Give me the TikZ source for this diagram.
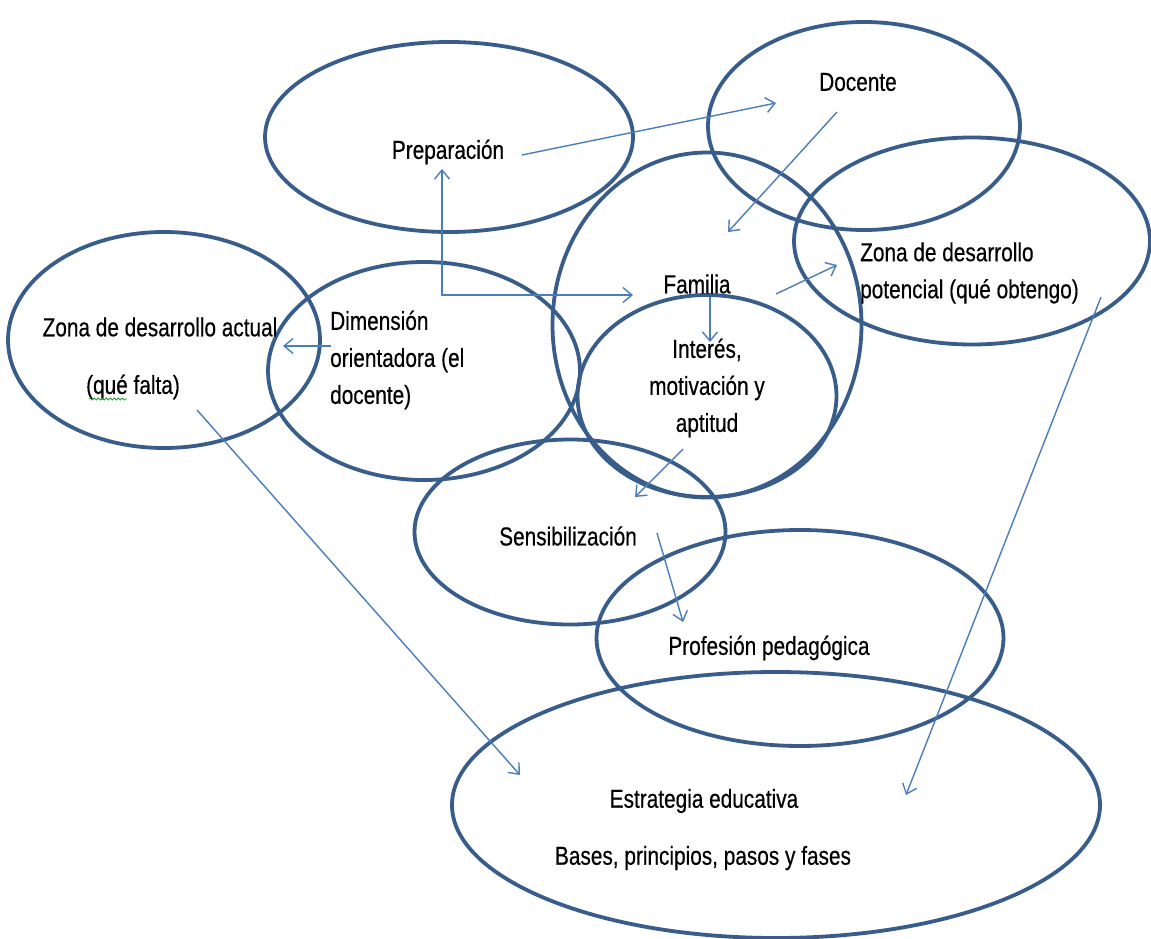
\documentclass[tikz,border=0pt]{standalone}
\usepackage{fontspec}
\setmainfont{Liberation Sans}[FakeStretch=0.8, FakeBold=0.4]
\usetikzlibrary{shapes.geometric,arrows.meta,decorations.pathmorphing}
\definecolor{ellc}{HTML}{385D8A}
\definecolor{arrc}{HTML}{4A7EBB}
\definecolor{spellc}{HTML}{2E9E2E}
\begin{document}
\begin{tikzpicture}[x=1pt,y=-1pt,
  ell/.style={draw=ellc, line width=3.8pt, ellipse, inner sep=0pt, outer sep=0pt},
  lbl/.style={font=\fontsize{26}{37}\selectfont, inner sep=0pt, align=center, text=black},
  arr/.style={draw=arrc, line width=1.4pt, -{Straight Barb[length=9pt,width=15pt]}},
  arrboth/.style={draw=arrc, line width=1.4pt, {Straight Barb[length=9pt,width=15pt]}-{Straight Barb[length=9pt,width=15pt]}},
]
\useasboundingbox[fill=white] (0,0) rectangle (1151,939);

% ellipses
\node[ell, minimum width=368pt, minimum height=190pt] (ePrep) at (449,137) {};
\node[ell, minimum width=312pt, minimum height=208pt] (eDoc) at (864,126) {};
\node[ell, minimum width=356pt, minimum height=207pt] (ePot) at (972,241) {};
\node[ell, minimum width=309pt, minimum height=345pt] (eFam) at (707,325) {};
\node[ell, minimum width=259pt, minimum height=202pt] (eInt) at (707,396) {};
\node[ell, minimum width=312pt, minimum height=216pt] (eZA) at (164,340) {};
\node[ell, minimum width=312pt, minimum height=218pt] (eDim) at (424,371) {};
\node[ell, minimum width=311pt, minimum height=185pt] (eSen) at (570,532) {};
\node[ell, minimum width=407pt, minimum height=216pt] (ePro) at (800,638) {};
\node[ell, minimum width=648pt, minimum height=266pt] (eEst) at (776,805) {};

% texts
\node[lbl] (tPrep) at (448,152) {Preparación};
\node[lbl] (tDoc) at (858,82) {Docente};
\node[lbl, align=left, anchor=west] (tPot) at (860,273) {Zona de desarrollo\\potencial (qué obtengo)};
\node[lbl] (tFam) at (697,284) {Familia};
\node[lbl] (tInt) at (707,388) {Interés,\\motivación y\\aptitud};
\node[lbl] (tZA1) at (160,327) {Zona de desarrollo actual};
\node[lbl] (tZA2) at (133,387) {(qué falta)};
\node[lbl, align=left, anchor=west] (tDim) at (330,360) {Dimensión\\orientadora (el\\docente)};
\node[lbl] (tSen) at (568,536) {Sensibilización};
\node[lbl] (tPro) at (769,648) {Profesión pedagógica};
\node[lbl] (tEst1) at (704,801) {Estrategia educativa};
\node[lbl] (tEst2) at (703,858) {Bases, principios, pasos y fases};

% spell-check squiggle
\coordinate (sq1) at (89,399);
\coordinate (sq2) at (127,399);
\draw[spellc, line width=0.8pt, decorate, decoration={snake, amplitude=1pt, segment length=4pt}] (sq1) -- (sq2);

% connector end points
\coordinate (a1s) at (522,155); \coordinate (a1e) at (776,103);
\coordinate (a2s) at (837,112); \coordinate (a2e) at (728,232);
\coordinate (a3s) at (776,294); \coordinate (a3e) at (837,265);
\coordinate (a4s) at (710,297); \coordinate (a4e) at (710,342);
\coordinate (a5s) at (442,169); \coordinate (a5e) at (633,295);
\coordinate (a6s) at (331,346); \coordinate (a6e) at (283,346);
\coordinate (a7s) at (683,449); \coordinate (a7e) at (635,497);
\coordinate (a8s) at (657,533); \coordinate (a8e) at (683,622);
\coordinate (a9s) at (197,410); \coordinate (a9e) at (520,775);
\coordinate (a10s) at (1101,297); \coordinate (a10e) at (906,795);

% connectors
\draw[arr] (a1s) -- (a1e);
\draw[arr] (a2s) -- (a2e);
\draw[arr] (a3s) -- (a3e);
\draw[arr] (a4s) -- (a4e);
\draw[arrboth] (a5s) |- (a5e);
\draw[arr] (a6s) -- (a6e);
\draw[arr] (a7s) -- (a7e);
\draw[arr] (a8s) -- (a8e);
\draw[arr] (a9s) -- (a9e);
\draw[arr] (a10s) -- (a10e);
\end{tikzpicture}
\end{document}
